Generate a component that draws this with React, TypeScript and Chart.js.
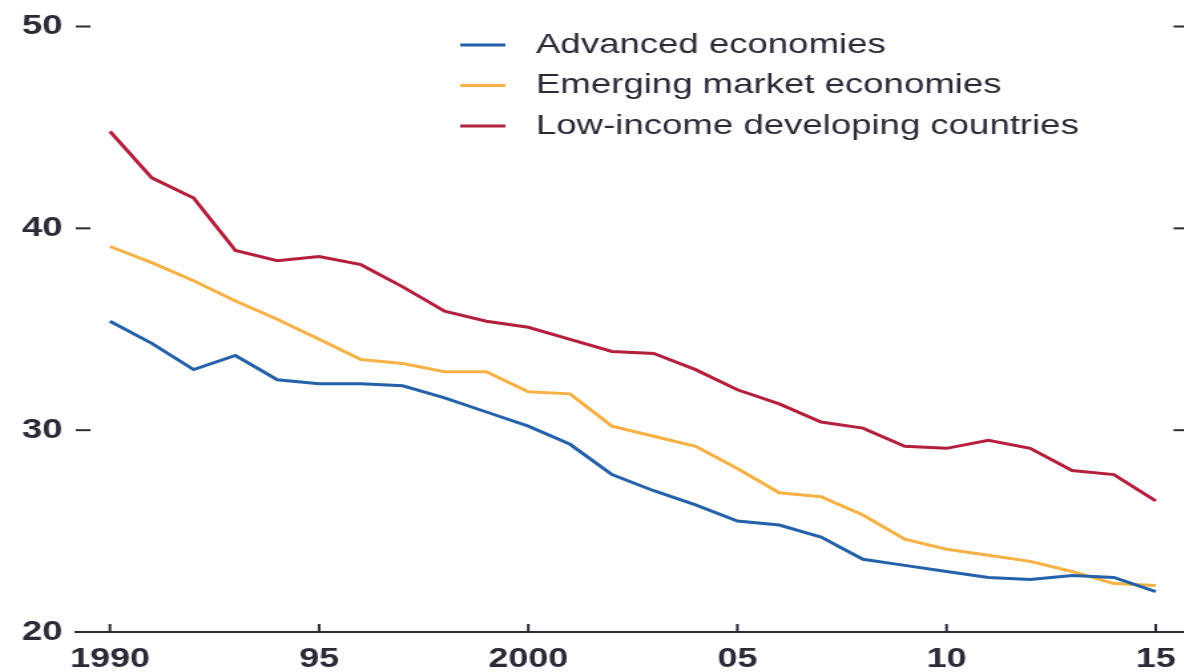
import React, { useEffect, useRef } from "react";
import { Chart, registerables } from "chart.js";

Chart.register(...registerables);

const years = [
  1990, 1991, 1992, 1993, 1994, 1995, 1996, 1997, 1998, 1999, 2000, 2001, 2002,
  2003, 2004, 2005, 2006, 2007, 2008, 2009, 2010, 2011, 2012, 2013, 2014, 2015,
];
const advanced = [
  35.4, 34.3, 33.0, 33.7, 32.5, 32.3, 32.3, 32.2, 31.6, 30.9, 30.2, 29.3, 27.8,
  27.0, 26.3, 25.5, 25.3, 24.7, 23.6, 23.3, 23.0, 22.7, 22.6, 22.8, 22.7, 22.0,
];
const emerging = [
  39.1, 38.3, 37.4, 36.4, 35.5, 34.5, 33.5, 33.3, 32.9, 32.9, 31.9, 31.8, 30.2,
  29.7, 29.2, 28.1, 26.9, 26.7, 25.8, 24.6, 24.1, 23.8, 23.5, 23.0, 22.4, 22.3,
];
const lowIncome = [
  44.8, 42.5, 41.5, 38.9, 38.4, 38.6, 38.2, 37.1, 35.9, 35.4, 35.1, 34.5, 33.9,
  33.8, 33.0, 32.0, 31.3, 30.4, 30.1, 29.2, 29.1, 29.5, 29.1, 28.0, 27.8, 26.5,
];
const seriesLabels = [
  "Advanced economies",
  "Emerging market economies",
  "Low-income developing countries",
];
const seriesColors = ["#2461a8", "#f7b145", "#b41f3d"];
const xTickValues = [1990, 1995, 2000, 2005, 2010, 2015];
const xTickLabels = ["1990", "95", "2000", "05", "10", "15"];
const yTickValues = [20, 30, 40, 50];

const STRETCH = 1.33;
const INNER_W = 895;
const H = 672;
const FONT = '"Liberation Sans", Arial, Helvetica, sans-serif';
const TEXT = "#2b2b38";

const tickMarks = {
  id: "tickMarks",
  afterDatasetsDraw(chart: any) {
    const { ctx, chartArea } = chart;
    const { left, right, bottom } = chartArea;
    const xs = chart.scales.x;
    const ys = chart.scales.y;
    ctx.save();
    ctx.strokeStyle = TEXT;
    ctx.lineWidth = 2;
    const seg = (x1: number, y1: number, x2: number, y2: number) => {
      ctx.beginPath();
      ctx.moveTo(x1, y1);
      ctx.lineTo(x2, y2);
      ctx.stroke();
    };
    yTickValues.forEach((v) => {
      if (v === yTickValues[0]) return;
      const y = ys.getPixelForValue(v);
      seg(left, y, left + 11, y);
      seg(right - 11, y, right, y);
    });
    xTickValues.forEach((v) => {
      const x = xs.getPixelForValue(v);
      seg(x, bottom, x, bottom - 8);
    });
    ctx.restore();
  },
};

const insideLegend = {
  id: "insideLegend",
  afterDraw(chart: any) {
    const { ctx } = chart;
    ctx.save();
    ctx.font = `27.5px ${FONT}`;
    ctx.textBaseline = "middle";
    ctx.textAlign = "left";
    chart.data.datasets.forEach((ds: any, i: number) => {
      const y = 45 + i * 40.5;
      ctx.strokeStyle = ds.borderColor;
      ctx.lineWidth = 3;
      ctx.beginPath();
      ctx.moveTo(346, y);
      ctx.lineTo(380, y);
      ctx.stroke();
      ctx.fillStyle = TEXT;
      ctx.fillText(ds.label, 403, y);
    });
    ctx.restore();
  },
};

export default function App() {
  const canvasRef = useRef<HTMLCanvasElement | null>(null);

  useEffect(() => {
    if (!canvasRef.current) return;
    const series = [advanced, emerging, lowIncome];
    const chart = new Chart(canvasRef.current, {
      type: "line",
      data: {
        datasets: series.map((vals, i) => ({
          label: seriesLabels[i],
          data: years.map((yr, k) => ({ x: yr, y: vals[k] })),
          borderColor: seriesColors[i],
          backgroundColor: seriesColors[i],
          borderWidth: 3,
          pointRadius: 0,
          tension: 0,
          fill: false,
        })),
      },
      options: {
        animation: false,
        responsive: true,
        maintainAspectRatio: false,
        layout: { padding: { top: 22, left: 0, right: 0, bottom: 0 } },
        plugins: {
          legend: { display: false },
          tooltip: { enabled: false },
        },
        scales: {
          x: {
            type: "linear",
            min: 1989.184,
            max: 2015.776,
            afterBuildTicks: (scale: any) => {
              scale.ticks = xTickValues.map((v) => ({ value: v }));
            },
            afterFit: (scale: any) => {
              scale.height = 40;
            },
            grid: { display: false, drawTicks: false },
            border: { display: true, color: TEXT, width: 2 },
            ticks: {
              padding: 11,
              maxRotation: 0,
              autoSkip: false,
              color: TEXT,
              font: { family: FONT, size: 27, weight: "bold" },
              callback: (v: any) => {
                const idx = xTickValues.indexOf(Number(v));
                return idx >= 0 ? xTickLabels[idx] : "";
              },
            },
          },
          y: {
            min: 20,
            max: 50,
            afterBuildTicks: (scale: any) => {
              scale.ticks = yTickValues.map((v) => ({ value: v }));
            },
            afterFit: (scale: any) => {
              scale.width = 57;
            },
            grid: { display: false, drawTicks: false },
            border: { display: false },
            ticks: {
              padding: 10,
              color: TEXT,
              font: { family: FONT, size: 27.5, weight: "bold" },
              callback: (v: any) => String(v),
            },
          },
        },
      },
      plugins: [tickMarks, insideLegend],
    });
    return () => chart.destroy();
  }, []);

  return (
    <div
      style={{
        position: "fixed",
        top: 0,
        left: 0,
        width: 1184,
        height: H,
        overflow: "hidden",
        background: "#ffffff",
      }}
    >
      <div
        style={{
          position: "relative",
          width: INNER_W,
          height: H,
          transform: `scaleX(${STRETCH})`,
          transformOrigin: "0 0",
        }}
      >
        <canvas ref={canvasRef} />
      </div>
    </div>
  );
}
